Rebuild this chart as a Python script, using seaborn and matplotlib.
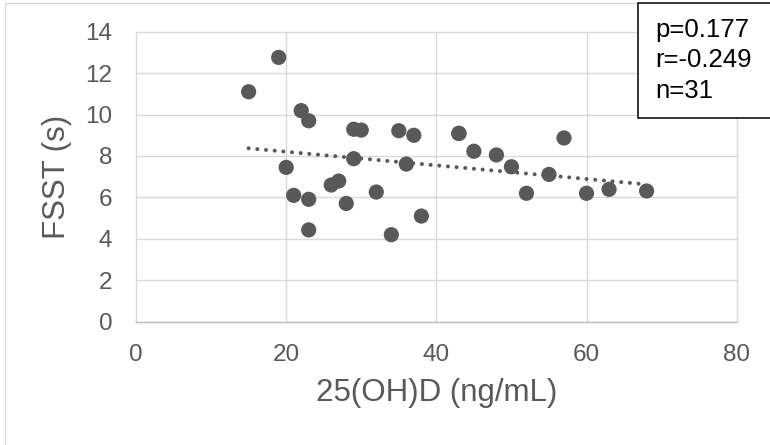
import matplotlib
matplotlib.use("Agg")
import matplotlib.pyplot as plt
from matplotlib.patches import Rectangle
import seaborn as sns
import pandas as pd

# Serum 25(OH)D versus Five-Step Stair Test time
vitd = [15, 19, 22, 23, 20, 29, 30, 35, 37, 43, 43, 21, 23, 26, 27, 28,
        29, 32, 36, 38, 23, 34, 45, 48, 50, 52, 55, 57, 60, 63, 68]
fsst = [11.1, 12.76, 10.19, 9.7, 7.45, 9.29, 9.25, 9.22, 9.0, 9.09, 9.09,
        6.1, 5.91, 6.6, 6.79, 5.71, 7.87, 6.26, 7.61, 5.1, 4.43, 4.2,
        8.23, 8.05, 7.48, 6.2, 7.11, 8.87, 6.2, 6.39, 6.31]

x_ticks = [0, 20, 40, 60, 80]
y_ticks = [0, 2, 4, 6, 8, 10, 12, 14]

p_value = 0.177
r_value = -0.249
n_subjects = 31

df = pd.DataFrame({"vitd": vitd, "fsst": fsst})

sns.set_theme(style="white")
plt.rcParams["font.family"] = ["Liberation Sans", "DejaVu Sans"]

W, H = 770, 445
fig = plt.figure(figsize=(W / 100, H / 100), dpi=100)
left, right, top, bottom = 136, 736.7, 31.7, 321.7
ax = fig.add_axes([left / W, 1 - bottom / H, (right - left) / W, (bottom - top) / H])

grey = "#595959"
sns.regplot(data=df, x="vitd", y="fsst", scatter=False, ci=None, ax=ax,
            line_kws=dict(color=grey, lw=2.9, linestyle=(0, (0.01, 2.15)),
                          dash_capstyle="round", zorder=2))
sns.scatterplot(data=df, x="vitd", y="fsst", s=120, color=grey,
                edgecolor="none", ax=ax, zorder=3)

ax.set_xlim(x_ticks[0], x_ticks[-1])
ax.set_ylim(y_ticks[0], y_ticks[-1])
ax.set_xticks(x_ticks)
ax.set_yticks(y_ticks)
ax.grid(True, color="#d9d9d9", lw=1.0)
ax.set_axisbelow(True)
for gl in ax.get_xgridlines() + ax.get_ygridlines():
    gl.set_clip_on(False)
for side in ["left", "top", "right"]:
    ax.spines[side].set_visible(False)
ax.spines["bottom"].set_color("#bfbfbf")
ax.spines["bottom"].set_linewidth(1.0)
ax.tick_params(axis="both", length=0, labelsize=17.5, labelcolor=grey)
ax.tick_params(axis="y", pad=17)
ax.tick_params(axis="x", pad=16)

ax.set_xlabel("25(OH)D (ng/mL)", fontsize=22.5, color=grey)
ax.set_ylabel("FSST (s)", fontsize=22.5, color=grey)
ax.xaxis.set_label_coords(0.5, (bottom - 393) / (bottom - top))
ax.yaxis.set_label_coords((57 - left) / (right - left), 0.5)
ax.xaxis.label.set_va("center")
ax.yaxis.label.set_va("center")

# chart frame
fig.add_artist(Rectangle((5 / W, 1 - 449 / H), 780 / W, 446 / H,
                         transform=fig.transFigure, facecolor="none",
                         edgecolor="#d9d9d9", lw=1.0, zorder=0.5))

# statistics box
fig.add_artist(Rectangle((638 / W, 1 - 118 / H), 150 / W, 115 / H,
                         transform=fig.transFigure, facecolor="white",
                         edgecolor="black", lw=1.1, zorder=5))
stats_lines = [f"p={p_value:.3f}", f"r={r_value:.3f}", f"n={n_subjects}"]
for line, yc in zip(stats_lines, [30, 60, 91]):
    fig.text(655 / W, 1 - yc / H, line, fontsize=18.5, color="black",
             ha="left", va="center", zorder=6)

fig.savefig("out.png", dpi=100)
